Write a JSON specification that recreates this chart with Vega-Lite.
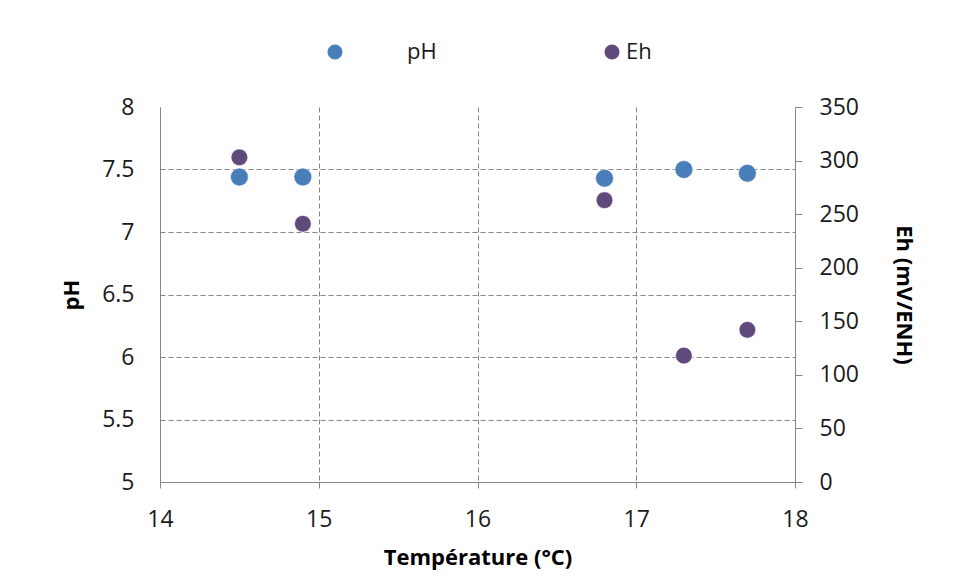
{
  "$schema": "https://vega.github.io/schema/vega-lite/v6.json",
  "width": 635,
  "height": 375,
  "autosize": {"type": "none"},
  "padding": {"left": 160, "top": 107, "right": 163, "bottom": 99},
  "background": "white",
  "config": {
    "font": "Open Sans",
    "view": {"stroke": null},
    "axis": {
      "domainColor": "#868686",
      "domainWidth": 1,
      "tickColor": "#868686",
      "gridColor": "#868686",
      "gridDash": [5, 3],
      "gridWidth": 1,
      "labelColor": "#1a1a1a",
      "labelFont": "Open Sans",
      "labelFontSize": 23,
      "labelFlush": false,
      "titleFont": "Open Sans",
      "titleFontSize": 22,
      "titleFontWeight": "bold",
      "titleColor": "#000000"
    },
    "legend": {
      "title": null,
      "orient": "none",
      "symbolType": "circle",
      "symbolSize": 227,
      "symbolStrokeWidth": 0,
      "labelFontSize": 22,
      "labelFont": "Open Sans",
      "labelColor": "#1a1a1a"
    }
  },
  "data": {
    "values": [
      {"T": 14.5, "pH": 7.44, "Eh": 303},
      {"T": 14.9, "pH": 7.44, "Eh": 241},
      {"T": 16.8, "pH": 7.43, "Eh": 263},
      {"T": 17.3, "pH": 7.5, "Eh": 118},
      {"T": 17.7, "pH": 7.47, "Eh": 142}
    ]
  },
  "layer": [
    {
      "mark": {"type": "circle", "size": 320, "opacity": 1, "stroke": "white", "strokeWidth": 0.6},
      "encoding": {
        "x": {
          "field": "T",
          "type": "quantitative",
          "scale": {"domain": [14, 18], "nice": false, "zero": false},
          "axis": {
            "values": [14, 15, 16, 17, 18],
            "format": "d",
            "title": "Température (°C)",
            "grid": true,
            "ticks": true,
            "tickSize": 6,
            "labelPadding": 20,
            "titlePadding": 16
          }
        },
        "y": {
          "field": "pH",
          "type": "quantitative",
          "scale": {"domain": [5, 8], "nice": false, "zero": false},
          "axis": {
            "values": [5, 5.5, 6, 6.5, 7, 7.5, 8],
            "format": "~g",
            "title": "pH",
            "grid": true,
            "gridOpacity": {"condition": {"test": "datum.value == 8", "value": 0}, "value": 1},
            "ticks": false,
            "tickSize": 0,
            "labelPadding": 26,
            "titlePadding": 18
          }
        },
        "color": {
          "datum": "pH",
          "type": "nominal",
          "scale": {"domain": ["pH"], "range": ["#4A7EBB"]},
          "legend": {
            "legendX": 164,
            "legendY": -66,
            "labelOffset": 61
          }
        }
      }
    },
    {
      "mark": {"type": "circle", "size": 280, "opacity": 1, "stroke": "white", "strokeWidth": 0.6},
      "encoding": {
        "x": {"field": "T", "type": "quantitative"},
        "y": {
          "field": "Eh",
          "type": "quantitative",
          "scale": {"domain": [0, 350], "nice": false, "zero": false},
          "axis": {
            "orient": "right",
            "values": [0, 50, 100, 150, 200, 250, 300, 350],
            "title": "Eh (mV/ENH)",
            "grid": false,
            "ticks": true,
            "tickSize": 7,
            "labelPadding": 17,
            "titlePadding": 33
          }
        },
        "color": {
          "datum": "Eh",
          "type": "nominal",
          "scale": {"domain": ["Eh"], "range": ["#604A7B"]},
          "legend": {
            "legendX": 441,
            "legendY": -66,
            "labelOffset": 3
          }
        }
      }
    }
  ],
  "resolve": {"scale": {"y": "independent", "color": "independent"}}
}
